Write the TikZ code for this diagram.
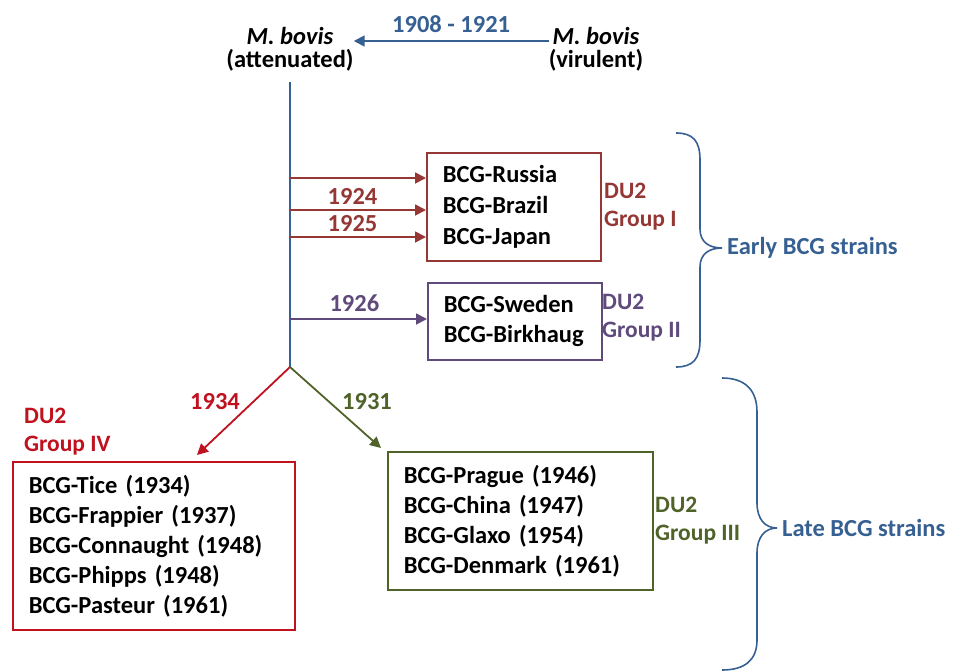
\documentclass[tikz,border=0pt]{standalone}
\usepackage{fontspec}
\setmainfont{Carlito}
\usetikzlibrary{arrows.meta,positioning}
\definecolor{bovisblue}{HTML}{376092}
\definecolor{grpIred}{HTML}{953735}
\definecolor{grpIIpurple}{HTML}{604A7B}
\definecolor{grpIIIgreen}{HTML}{4F6228}
\definecolor{grpIVred}{HTML}{C0111F}
\begin{document}
\begin{tikzpicture}[x=1pt, y=-1pt,
        every node/.style={font=\bfseries\fontsize{24.5}{30}\selectfont, inner sep=0pt},
        strainbox/.style={draw, line width=1.7pt, anchor=north west, align=left, inner xsep=16pt},
        dulabel/.style={anchor=west, align=left, font=\bfseries\fontsize{23.5}{28}\selectfont},
        branch/.style={line width=1.8pt, -{Triangle[length=11pt,width=11pt]}},
        curly/.style={line width=1.6pt, bovisblue},
        ]
        \useasboundingbox (0,0) rectangle (964,672);

        % Nodes
        \node[align=center, font=\bfseries\fontsize{24.5}{23}\selectfont] (att) at (290,49) {\textit{M. bovis}\\(attenuated)};
        \node[align=center, font=\bfseries\fontsize{24.5}{23}\selectfont] (vir) at (596,49) {\textit{M. bovis}\\(virulent)};
        \draw[branch, bovisblue] ([yshift=8pt]vir.west) -- ([yshift=8pt]att.east)
            node[midway, above=7pt, text=bovisblue] (yrs) {1908 - 1921};

        % the trunk
        \coordinate (top) at (290,82);
        \coordinate (fork) at (290,367);
        \draw[line width=1.6pt, bovisblue] (top) -- (fork);
        \coordinate (t1) at (290,178);
        \coordinate (t2) at (290,210);
        \coordinate (t3) at (290,237);
        \coordinate (t4) at (290,319);

        % Early strains
        \node[strainbox, draw=grpIred, text width=142pt, minimum height=108pt,
            font=\bfseries\fontsize{24.5}{31}\selectfont] (grpI) at (426,152)
            {BCG-Russia\\BCG-Brazil\\BCG-Japan};
        \node[strainbox, draw=grpIIpurple, text width=142pt, minimum height=77pt] (grpII) at (427,282)
            {BCG-Sweden\\BCG-Birkhaug};
        \node[dulabel, text=grpIred] (duI) at (604,207) {DU2\\Group I};
        \node[dulabel, text=grpIIpurple] (duII) at (602,318) {DU2\\Group II};

        \draw[branch, grpIred] (t1) -- (grpI.west |- t1);
        \draw[branch, grpIred] (t2) -- (grpI.west |- t2) node[pos=0.46, above=5pt, text=grpIred] (y24) {1924};
        \draw[branch, grpIred] (t3) -- (grpI.west |- t3) node[pos=0.46, above=4pt, text=grpIred] (y25) {1925};
        \draw[branch, grpIIpurple] (t4) -- (grpII.west |- t4) node[pos=0.47, above=6pt, text=grpIIpurple] (y26) {1926};

        % Late strains
        \node[strainbox, draw=grpIVred, text width=250pt, minimum height=168pt] (grpIV) at (12,461)
            {BCG-Tice (1934)\\BCG-Frappier (1937)\\BCG-Connaught (1948)\\BCG-Phipps (1948)\\BCG-Pasteur (1961)};
        \node[strainbox, draw=grpIIIgreen, text width=233pt, minimum height=138pt] (grpIII) at (387,451)
            {BCG-Prague (1946)\\BCG-China (1947)\\BCG-Glaxo (1954)\\BCG-Denmark (1961)};
        \node[dulabel, text=grpIVred] (duIV) at (24,432) {DU2\\Group IV};
        \node[dulabel, text=grpIIIgreen] (duIII) at (655,521) {DU2\\Group III};

        \coordinate (toIV) at (197,455);
        \coordinate (toIII) at (381,448);
        \draw[branch, grpIVred] (fork) -- (toIV);
        \draw[branch, grpIIIgreen] (fork) -- (toIII);
        \node[text=grpIVred] (y34) at (215,402) {1934};
        \node[text=grpIIIgreen] (y31) at (367,402) {1931};

        % Braces
        \draw[curly] (676,133) .. controls (693,133) and (700,141) .. (700,160) -- (700,229)
            .. controls (700,242) and (709,248) .. (722,248) .. controls (709,248) and (700,254) .. (700,267)
            -- (700,340) .. controls (700,359) and (693,367) .. (676,367);
        \draw[curly] (722,378) .. controls (745,378) and (757,390) .. (757,412) -- (757,503)
            .. controls (757,519) and (765,528) .. (777,528) .. controls (765,528) and (757,537) .. (757,553)
            -- (757,640) .. controls (757,660) and (745,670) .. (722,670);
        \node[anchor=west, text=bovisblue] (early) at (727,248) {Early BCG strains};
        \node[anchor=west, text=bovisblue] (late) at (782,528) {Late BCG strains};
    \end{tikzpicture}
\end{document}
